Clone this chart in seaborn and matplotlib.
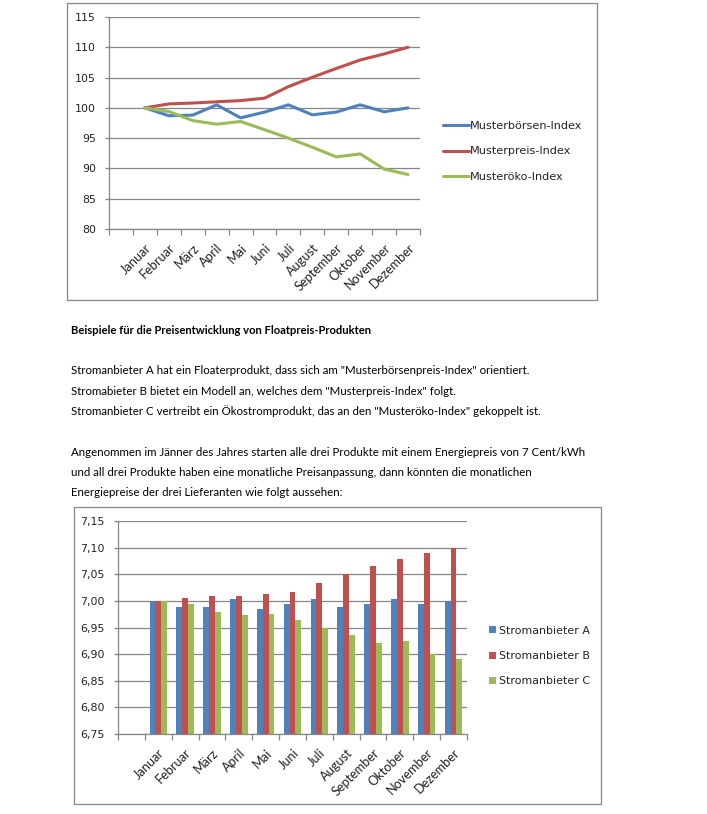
import matplotlib
matplotlib.use("Agg")
import matplotlib.pyplot as plt
import seaborn as sns
import pandas as pd
import numpy as np
from matplotlib.patches import Rectangle
from matplotlib.lines import Line2D
from matplotlib.ticker import FuncFormatter

# ---------------- data ----------------
months = ["Januar", "Februar", "März", "April", "Mai", "Juni", "Juli",
          "August", "September", "Oktober", "November", "Dezember"]

line_series = ["Musterbörsen-Index", "Musterpreis-Index", "Musteröko-Index"]
boersen_index = [100, 98.7, 98.8, 100.5, 98.35, 99.3, 100.5, 98.85, 99.3, 100.5, 99.35, 100]
preis_index = [100, 100.65, 100.8, 101.0, 101.2, 101.6, 103.5, 105.05, 106.5, 107.9, 108.9, 110]
oeko_index = [100, 99.4, 97.9, 97.3, 97.75, 96.4, 95.0, 93.5, 91.9, 92.4, 89.9, 89.0]

bar_series = ["Stromanbieter A", "Stromanbieter B", "Stromanbieter C"]
anbieter_a = [7.000, 6.988, 6.989, 7.004, 6.984, 6.995, 7.004, 6.989, 6.995, 7.004, 6.995, 7.000]
anbieter_b = [7.000, 7.006, 7.009, 7.010, 7.012, 7.016, 7.034, 7.051, 7.065, 7.079, 7.089, 7.100]
anbieter_c = [7.000, 6.995, 6.980, 6.974, 6.976, 6.965, 6.949, 6.935, 6.920, 6.925, 6.900, 6.890]

title_text = "Beispiele für die Preisentwicklung von Floatpreis-Produkten"
para1 = ['Stromanbieter A hat ein Floaterprodukt, dass sich am "Musterbörsenpreis-Index" orientiert.',
         'Stromabieter B bietet ein Modell an, welches dem "Musterpreis-Index" folgt.',
         'Stromanbieter C vertreibt ein Ökostromprodukt, das an den "Musteröko-Index" gekoppelt ist.']
para2 = ['Angenommen im Jänner des Jahres starten alle drei Produkte mit einem Energiepreis von 7 Cent/kWh',
         'und all drei Produkte haben eine monatliche Preisanpassung, dann könnten die monatlichen',
         'Energiepreise der drei Lieferanten wie folgt aussehen:']

colors = ["#4F81BD", "#C0504D", "#9BBB59"]
GRID = "#868686"

# ---------------- figure ----------------
W, H = 707, 814
sns.set_theme(style="white")
plt.rcParams["font.family"] = ["DejaVu Sans"]
fig = plt.figure(figsize=(W / 100, H / 100), dpi=100)
fig.patch.set_facecolor("white")


def px_axes(left, top, right, bottom):
    return fig.add_axes([left / W, 1 - bottom / H, (right - left) / W, (bottom - top) / H])


def frame(left, top, right, bottom):
    fig.patches.append(Rectangle((left / W, 1 - bottom / H), (right - left) / W, (bottom - top) / H,
                                 transform=fig.transFigure, fill=False, edgecolor=GRID, linewidth=0.9))


def style_axes(ax):
    for s in ["top", "right"]:
        ax.spines[s].set_visible(False)
    for s in ["left", "bottom"]:
        ax.spines[s].set_color(GRID)
        ax.spines[s].set_linewidth(0.9)
    ax.grid(axis="y", color=GRID, linewidth=0.9)
    ax.grid(axis="x", visible=False)
    ax.set_axisbelow(True)
    ax.set_xlim(-0.5, 12.5)
    ax.set_xticks(np.arange(13))
    ax.set_xticklabels([""] + months, rotation=45, ha="right", va="top",
                       rotation_mode="anchor", fontsize=9.2, family="Lato", color="#222222")
    ax.set_xticks(np.arange(-0.5, 13, 1), minor=True)
    ax.tick_params(axis="x", which="major", length=0, pad=9)
    ax.tick_params(axis="x", which="minor", length=4, color=GRID, width=0.9, direction="out")
    ax.tick_params(axis="y", length=3, color=GRID, width=0.9, direction="out", labelsize=7.9,
                   pad=6.5, labelcolor="#222222")
    ax.tick_params(axis="both", which="both", bottom=True, left=True)
    ax.set_xlabel("")
    ax.set_ylabel("")


# ---------------- top chart ----------------
frame(67, 3, 597, 300)
ax1 = px_axes(109, 17, 420, 229)
df_line = pd.DataFrame({
    "pos": np.tile(np.arange(1, 13), 3),
    "value": boersen_index + preis_index + oeko_index,
    "series": np.repeat(line_series, 12),
})
sns.lineplot(data=df_line, x="pos", y="value", hue="series", hue_order=line_series,
             palette=colors, linewidth=2.2, ax=ax1, legend=False)
ax1.set_ylim(80, 115)
ax1.set_yticks(np.arange(80, 116, 5))
style_axes(ax1)
h1 = [Line2D([0], [0], color=c, linewidth=2.2) for c in colors]
fig.legend(h1, line_series, loc="center left", bbox_to_anchor=(443 / W, 1 - 151.5 / H),
           frameon=False, fontsize=8.1, handlelength=2.3, handletextpad=0.1, labelspacing=1.37,
           borderaxespad=0, borderpad=0, labelcolor="#222222")

# ---------------- texts ----------------
fig.text(71 / W, 1 - 330 / H, title_text, fontsize=8.1, fontweight="bold", family="Lato",
         va="center", ha="left", color="black")
for i, line in enumerate(para1):
    fig.text(71 / W, 1 - (371 + 20 * i) / H, line, fontsize=8.3, family="Lato", va="center",
             ha="left", color="black")
for i, line in enumerate(para2):
    fig.text(71 / W, 1 - (452 + 20 * i) / H, line, fontsize=8.3, family="Lato", va="center",
             ha="left", color="black")

# ---------------- bottom chart ----------------
frame(74, 507, 601, 804)
ax2 = px_axes(118, 521, 467, 734)
df_bar = pd.DataFrame({
    "Monat": months * 3,
    "Preis": anbieter_a + anbieter_b + anbieter_c,
    "Anbieter": np.repeat(bar_series, 12),
})
sns.barplot(data=df_bar, x="Monat", y="Preis", hue="Anbieter", order=[""] + months,
            hue_order=bar_series, palette=colors, saturation=1, width=0.65,
            linewidth=0, ax=ax2, legend=False)
ax2.set_ylim(6.75, 7.15)
ax2.set_yticks(np.round(np.arange(6.75, 7.151, 0.05), 2))
ax2.yaxis.set_major_formatter(FuncFormatter(lambda v, p: f"{v:.2f}".replace(".", ",")))
style_axes(ax2)
h2 = [Rectangle((0, 0), 1, 1, facecolor=c, edgecolor="none") for c in colors]
fig.legend(h2, bar_series, loc="center left", bbox_to_anchor=(489 / W, 1 - 656 / H),
           frameon=False, fontsize=7.9, handlelength=0.62, handleheight=0.62,
           handletextpad=0.3, labelspacing=1.4, borderaxespad=0, borderpad=0, labelcolor="#222222")

fig.savefig("out.png", dpi=100, facecolor="white")
